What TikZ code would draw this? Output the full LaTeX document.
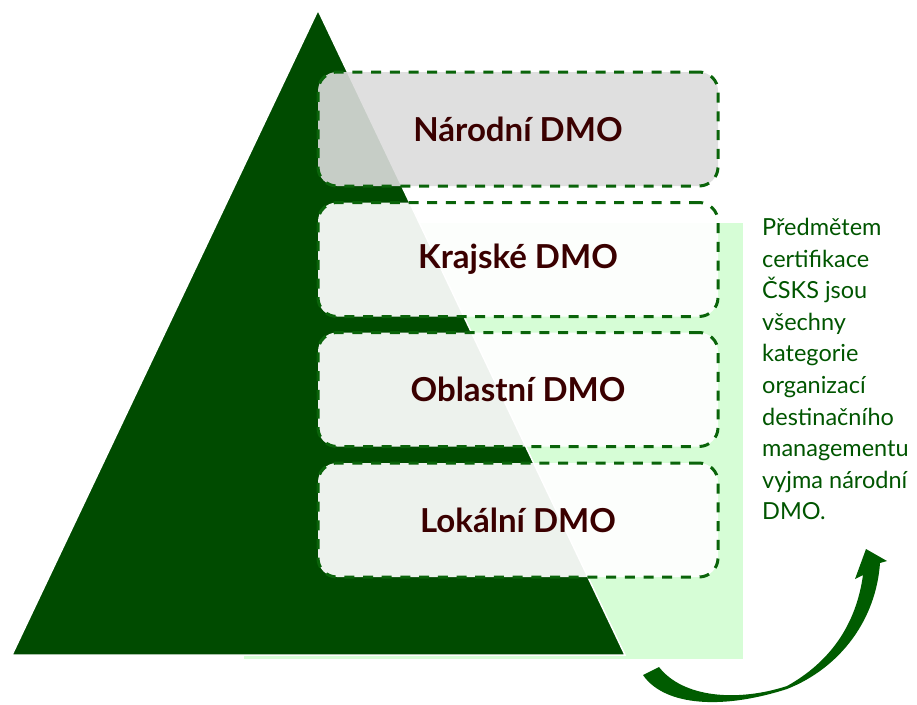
\documentclass[tikz,border=0pt]{standalone}
\usepackage{fontspec}
\setmainfont{Lato}
\definecolor{trigreen}{RGB}{0,75,0}
\definecolor{palegreen}{RGB}{214,253,214}
\definecolor{dashgreen}{RGB}{10,100,10}
\definecolor{boxtext}{RGB}{58,0,0}
\definecolor{sidetext}{RGB}{0,85,0}
\definecolor{arrowgreen}{RGB}{0,92,0}
\definecolor{topgray}{RGB}{220,220,220}
\begin{document}
\begin{tikzpicture}[x=1pt,y=-1pt,
  dmobox/.style={draw=dashgreen, line width=3pt, dash pattern=on 10pt off 8.7pt,
    rounded corners=19pt, minimum width=400pt, minimum height=114pt,
    fill=white, fill opacity=0.93, text opacity=1, text=boxtext,
    font=\fontsize{33}{38}\selectfont\bfseries, inner sep=0pt},
  topbox/.style={dmobox, fill=topgray, fill opacity=0.9},
  sidenote/.style={anchor=north west, align=left, inner sep=0pt, text=sidetext,
    font=\fontsize{23.5}{31.6}\selectfont}
]
\useasboundingbox (0,0) rectangle (917,704);
% pale green backdrop
\fill[palegreen] (244,223) rectangle (743,659);
% pyramid
\filldraw[fill=trigreen, draw=white, line width=1.5pt] (318,10) -- (625,655) -- (12,655) -- cycle;
% level boxes
\node[topbox] (narodni) at (518,129) {Národní DMO};
\node[dmobox] (krajske) at (518,259.5) {Krajské DMO};
\node[dmobox] (oblastni) at (518,389.5) {Oblastní DMO};
\node[dmobox] (lokalni) at (518,520) {Lokální DMO};
% side note
\node[sidenote] (note) at (762,218) {Předmětem\\certifikace\\ČSKS jsou\\všechny\\kategorie\\organizací\\destinačního\\managementu\\vyjma národní\\DMO.};
% curved arrow
\fill[arrowgreen] (643,675) .. controls (662,703) and (715,712) .. (787,689)
  .. controls (840,668) and (876,620) .. (880,563) -- (887,561) -- (866,549) -- (855,579) -- (863,575)
  .. controls (856,625) and (830,662) .. (787,686)
  .. controls (738,702) and (683,698) .. (659,667) -- cycle;
\end{tikzpicture}
\end{document}
